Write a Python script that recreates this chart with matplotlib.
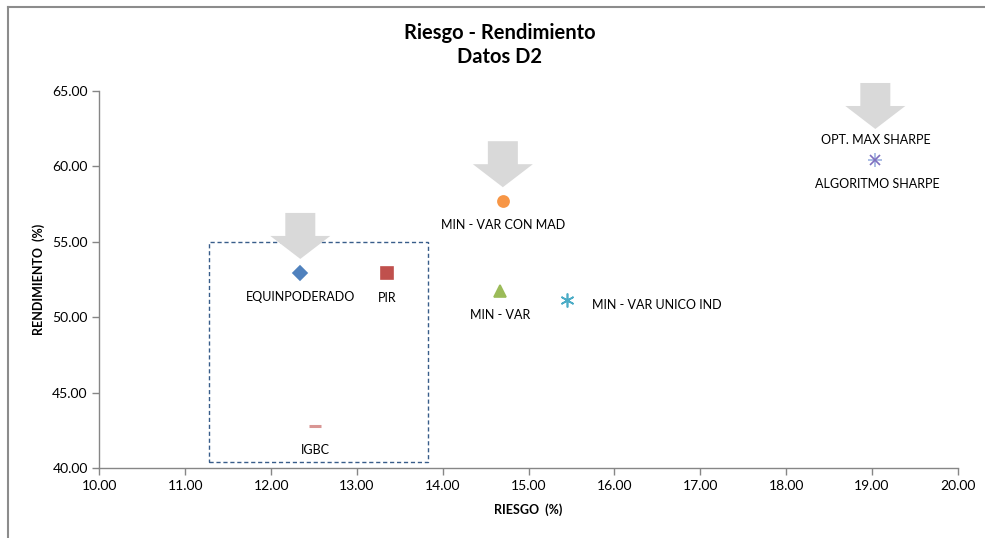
import matplotlib
matplotlib.use("Agg")
import matplotlib.pyplot as plt
from matplotlib.patches import Polygon, Rectangle
from matplotlib.lines import Line2D
from matplotlib.transforms import IdentityTransform

plt.rcParams['font.family'] = ['Lato', 'DejaVu Sans']

# portfolios: riesgo (%), rendimiento (%)
names = ['EQUINPODERADO', 'PIR', 'IGBC', 'MIN - VAR CON MAD', 'MIN - VAR',
         'MIN - VAR UNICO IND', 'OPT. MAX SHARPE', 'ALGORITMO SHARPE']
riesgo = [12.34, 13.35, 12.51, 14.70, 14.67, 15.45, 19.04, 19.04]
rendimiento = [52.95, 52.93, 42.80, 57.70, 51.75, 51.15, 60.43, 60.43]
markers = ['D', 's', '_', 'o', '^', (6, 2, 0), '+', 'x']
colors = ['#4F81BD', '#C0504D', '#D99694', '#F79646', '#9BBB59', '#4BACC6',
          '#9DB3E0', '#7F6FBF']
sizes = [7, 8, 9, 8, 8, 10, 10, 7]
# label offsets in pixels (dx, dy), alignment
label_pos = [(0, -24, 'center'), (0, -25, 'center'), (0, -24, 'center'),
             (0, -24, 'center'), (0, -24, 'center'), (25, -5, 'left'),
             (0, 20, 'center'), (2, -24, 'center')]

# points marked with a big gray arrow, and arrow tip gap in px
arrow_idx = [0, 3, 6]
arrow_gap = [14, 14, 31]

# dashed box around equal-weight / PIR / IGBC
box_x = [11.28, 13.83]
box_y = [40.43, 55.0]

fig = plt.figure(figsize=(9.85, 5.38), dpi=100)
ax = fig.add_axes([0.101, 0.1292, 0.8713, 0.7017])

ax.set_xlim(10, 20)
ax.set_ylim(40, 65)
ax.set_xticks([10, 11, 12, 13, 14, 15, 16, 17, 18, 19, 20])
ax.set_yticks([40, 45, 50, 55, 60, 65])
ax.xaxis.set_major_formatter(lambda v, p: '%.2f' % v)
ax.yaxis.set_major_formatter(lambda v, p: '%.2f' % v)
ax.tick_params(labelsize=10, color='#868686', length=5, width=1,
               labelcolor='#000000')
for s in ['top', 'right']:
    ax.spines[s].set_visible(False)
for s in ['left', 'bottom']:
    ax.spines[s].set_color('#868686')
    ax.spines[s].set_linewidth(1)

ax.set_xlabel('RIESGO  (%)', fontsize=9, fontweight='bold', labelpad=8)
ax.set_ylabel('RENDIMIENTO  (%)', fontsize=9, fontweight='bold', labelpad=5)
fig.text(500 / 985, 1 - 45 / 538, 'Riesgo - Rendimiento\nDatos D2',
         fontsize=14.5, fontweight='bold', ha='center', va='center',
         linespacing=1.2)

ax.add_patch(Rectangle((box_x[0], box_y[0]), box_x[1] - box_x[0],
                       box_y[1] - box_y[0], fill=False, ec='#385D8A',
                       lw=1, ls=(0, (3, 2)), zorder=2))

for i in range(len(names)):
    mew = 2.2 if markers[i] == '_' else 1.2
    ax.plot(riesgo[i], rendimiento[i], ls='none', marker=markers[i],
            color=colors[i], ms=sizes[i], mew=mew, zorder=4)
    dx, dy, ha = label_pos[i]
    ax.annotate(names[i], (riesgo[i], rendimiento[i]), xytext=(dx, dy),
                textcoords='offset pixels', ha=ha, va='center',
                fontsize=9, color='#000000')

# block arrows pointing down at the highlighted portfolios
fig.canvas.draw()
for k, i in enumerate(arrow_idx):
    px, py = ax.transData.transform((riesgo[i], rendimiento[i]))
    tip = py + arrow_gap[k]
    verts = [(px, tip), (px - 30, tip + 23), (px - 15, tip + 23),
             (px - 15, tip + 46), (px + 15, tip + 46), (px + 15, tip + 23),
             (px + 30, tip + 23)]
    fig.patches.append(Polygon(verts, closed=True, fc='#D9D9D9', ec='none',
                               transform=IdentityTransform(), figure=fig))

# chart border (Excel style, clipped at right/bottom)
fig.add_artist(Line2D([8, 985], [538 - 7, 538 - 7], transform=IdentityTransform(),
                      color='#8C8C8C', lw=1.5))
fig.add_artist(Line2D([8, 8], [0, 538 - 7], transform=IdentityTransform(),
                      color='#8C8C8C', lw=1.5))

fig.savefig('out.png', dpi=100)
